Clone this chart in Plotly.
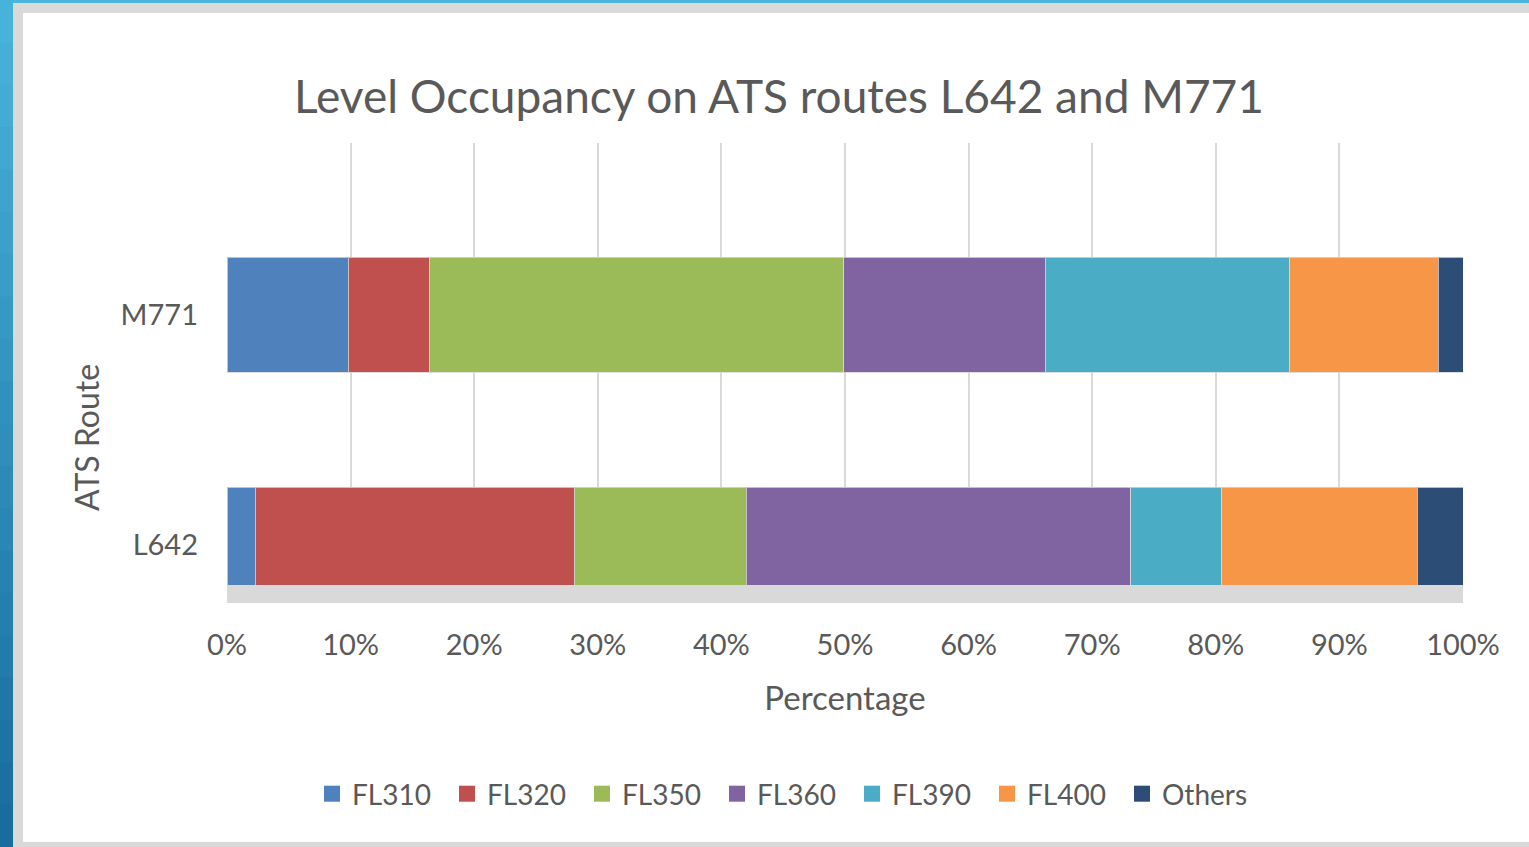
import plotly.graph_objects as go

routes = ["L642", "M771"]
levels = ["FL310", "FL320", "FL350", "FL360", "FL390", "FL400", "Others"]
colors = ["#4F81BD", "#C0504D", "#9BBB59", "#8064A2", "#4BACC6", "#F79646", "#2C4D75"]
# percentage shares [L642, M771]
fl310 = [2.3, 9.8]
fl320 = [25.8, 6.6]
fl350 = [13.9, 33.5]
fl360 = [31.1, 16.3]
fl390 = [7.4, 19.8]
fl400 = [15.8, 12.0]
others = [3.7, 2.0]
series = [fl310, fl320, fl350, fl360, fl390, fl400, others]

xticks = [0, 10, 20, 30, 40, 50, 60, 70, 80, 90, 100]
xticklabels = [f"{v}%" for v in xticks]

FONT = "Lato"
GREY_TXT = "#595959"

fig = go.Figure()
for name, vals, col in zip(levels, series, colors):
    fig.add_trace(go.Bar(
        y=routes, x=vals, name=name, orientation="h", showlegend=False,
        marker=dict(color=col, line=dict(color="rgba(215,215,215,0.8)", width=1)),
        width=0.5,
    ))
for name, col in zip(levels, colors):
    fig.add_trace(go.Scatter(
        x=[None], y=[None], mode="markers", name=name,
        marker=dict(symbol="square", size=19, color=col),
    ))

W, H = 1529, 847
L, R, T, B = 227, 66, 143, 244
pw, ph = W - L - R, H - T - B

def px(x):
    return (x - L) / pw

def py(y):
    return (H - B - y) / ph

shapes = [
    # gray frame
    dict(type="rect", xref="paper", yref="paper", x0=px(13), x1=px(W + 5), y0=py(H + 5), y1=py(3),
         fillcolor="#D9D9D9", line=dict(width=0), layer="below"),
    # white chart area
    dict(type="rect", xref="paper", yref="paper", x0=px(23), x1=px(W + 5), y0=py(842), y1=py(13),
         fillcolor="#FFFFFF", line=dict(width=0), layer="below"),
    # top blue strip
    dict(type="rect", xref="paper", yref="paper", x0=px(0), x1=px(W + 5), y0=py(3), y1=py(0),
         fillcolor="#4DB6DC", line=dict(width=0), layer="below"),
]
# blue gradient strip on the left
c0 = (0x48, 0xB3, 0xDA)
c1 = (0x18, 0x6C, 0x9E)
n = 20
for i in range(n):
    t = i / (n - 1)
    c = tuple(int(round(a + (b - a) * t)) for a, b in zip(c0, c1))
    y0p = H * i / n
    y1p = H * (i + 1) / n + 1
    shapes.append(dict(type="rect", xref="paper", yref="paper", x0=px(0), x1=px(13),
                       y0=py(y1p), y1=py(y0p), fillcolor="rgb(%d,%d,%d)" % c,
                       line=dict(width=0), layer="below"))
# floor of the chart
shapes.append(dict(type="rect", xref="paper", yref="paper", x0=0, x1=1, y0=0, y1=py(585),
                   fillcolor="#D9D9D9", line=dict(width=0), layer="above"))

annotations = [
    dict(text="ATS Route", xref="paper", yref="paper", x=px(86), y=py(438), textangle=-90,
         showarrow=False, xanchor="center", yanchor="middle",
         font=dict(size=32, color=GREY_TXT, family=FONT)),
]

fig.update_layout(
    width=W, height=H,
    margin=dict(l=L, r=R, t=T, b=B, pad=0),
    paper_bgcolor="#FFFFFF", plot_bgcolor="rgba(0,0,0,0)",
    barmode="stack",
    shapes=shapes,
    annotations=annotations,
    font=dict(family=FONT, color=GREY_TXT, size=29),
    title=dict(text="Level Occupancy on ATS routes L642 and M771", x=779 / W, xanchor="center",
               y=1 - 97 / H, yanchor="middle", font=dict(size=46, color=GREY_TXT, family=FONT)),
    xaxis=dict(range=[0, 100], tickvals=xticks, ticktext=xticklabels, showgrid=True,
               gridcolor="#D9D9D9", gridwidth=2, zeroline=False, showline=False,
               ticks="", ticklabelstandoff=22, tickfont=dict(size=29),
               title=dict(text="Percentage", standoff=26, font=dict(size=33))),
    yaxis=dict(range=[-0.254, 1.746], showgrid=False, zeroline=False, showline=False, ticks="",
               ticklabelstandoff=28, tickfont=dict(size=29)),
    legend=dict(orientation="h", x=px(312), xanchor="left", y=py(794), yanchor="middle",
                font=dict(size=28), traceorder="normal", itemwidth=30,
                entrywidth=90, entrywidthmode="pixels", bgcolor="rgba(0,0,0,0)"),
)

fig.write_html("out.html", config={"displayModeBar": False},
               post_script="document.body.style.margin='0';")
